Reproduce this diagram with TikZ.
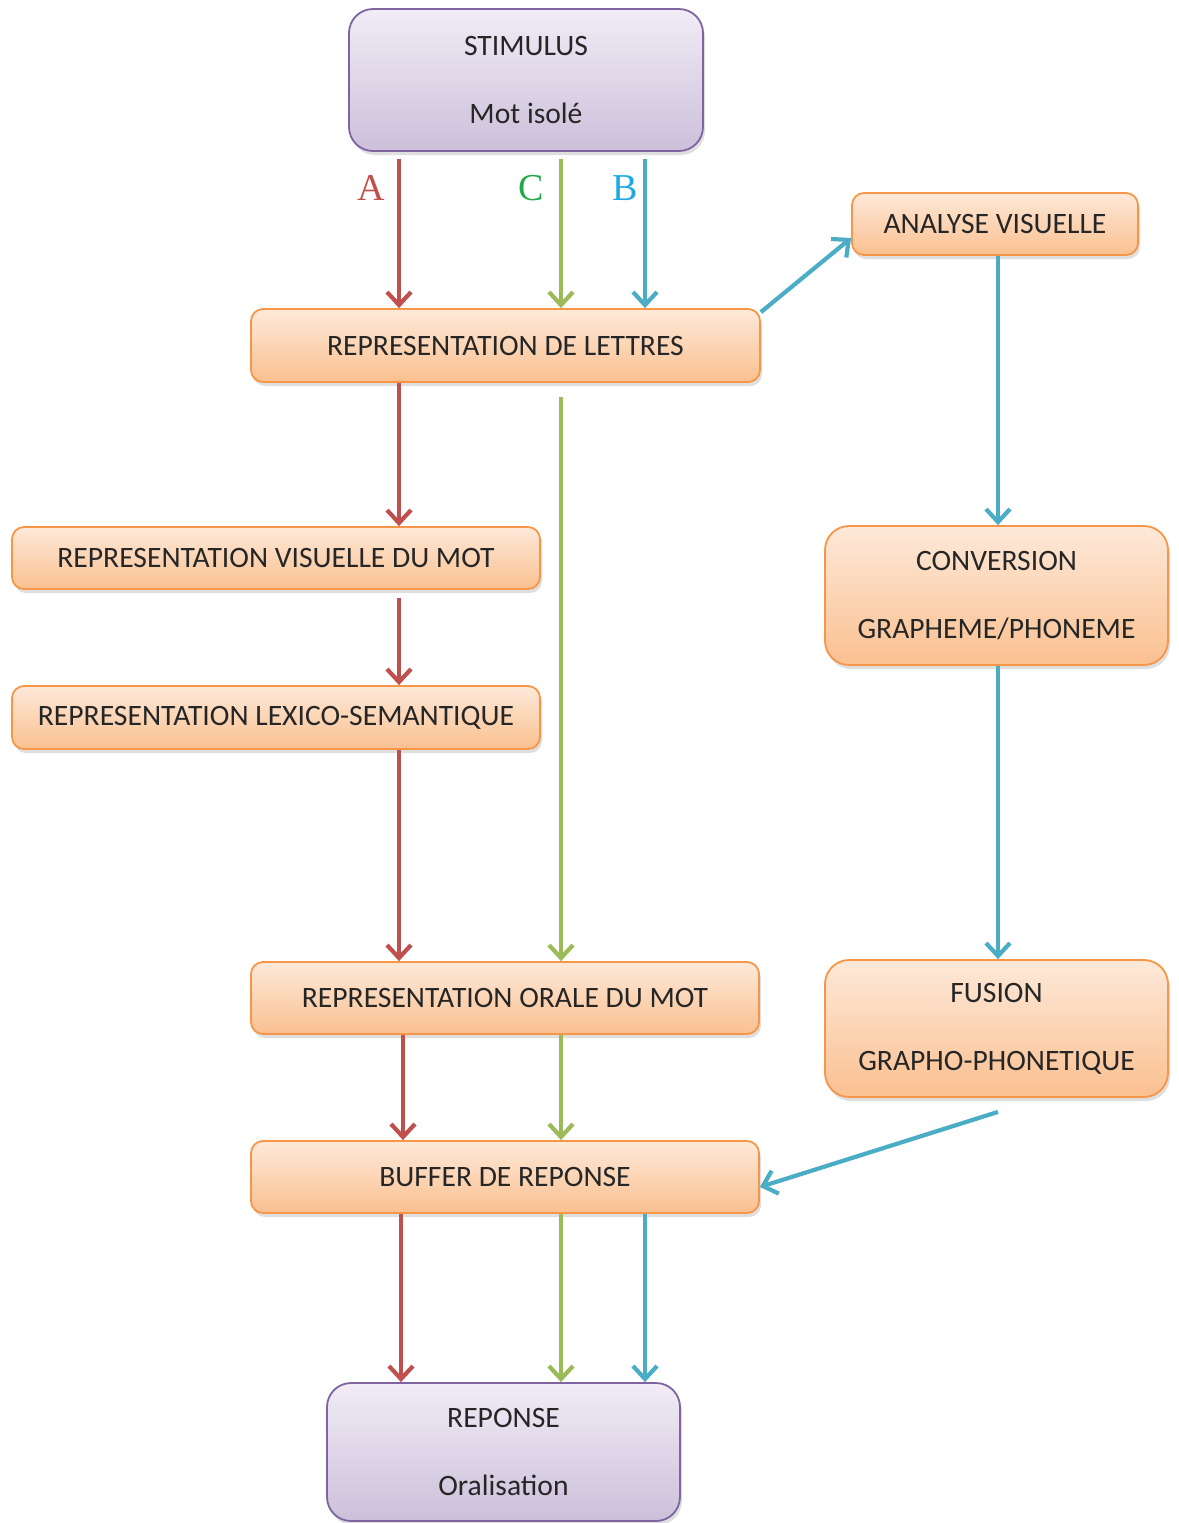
\documentclass[tikz,border=0pt]{standalone}
\usepackage{fontspec}
\setmainfont{Carlito}
\newfontfamily\serifabc{Liberation Serif}
\usepackage{tikz}
\usetikzlibrary{arrows.meta,shadows}

\definecolor{orline}{HTML}{F79646}
\definecolor{ortop}{HTML}{FDE9D9}
\definecolor{orbot}{HTML}{FAC090}
\definecolor{puline}{HTML}{8064A2}
\definecolor{putop}{HTML}{F1ECF6}
\definecolor{pubot}{HTML}{CCC0DA}
\definecolor{voieA}{HTML}{C0504D}
\definecolor{voieC}{HTML}{9BBB59}
\definecolor{voieB}{HTML}{4BACC6}
\definecolor{lettreA}{HTML}{C0504D}
\definecolor{lettreC}{HTML}{22AA4A}
\definecolor{lettreB}{HTML}{1FA9E1}

\begin{document}
\begin{tikzpicture}
		[x=0.5pt,y=-0.5pt,
		box/.style= {rounded corners=6pt,line width=0.9pt,draw=orline,top color=ortop,bottom color=orbot,
			drop shadow={shadow xshift=1pt,shadow yshift=-2pt,opacity=0.25},
			font=\fontsize{14.8}{17}\selectfont,text=black!85,align=center,inner sep=0pt},
		bigbox/.style= {box,rounded corners=12pt},
		pbox/.style= {bigbox,draw=puline,top color=putop,bottom color=pubot},
		voie/.style= {line width=2.1pt,-{Straight Barb[length=6.5pt,width=12pt,line width=2.1pt]}},
		va/.style= {voie,draw=voieA},
		vc/.style= {voie,draw=voieC},
		vb/.style= {voie,draw=voieB},
		lbl/.style= {font=\serifabc\fontsize{19}{19}\selectfont}]

		\useasboundingbox (0,0) rectangle (1179,1523);

		% colonnes des trois voies
		\coordinate (colA) at (399,0);
		\coordinate (colC) at (561,0);
		\coordinate (colB) at (645,0);
		\coordinate (colD) at (998,0);

		\node[pbox,minimum width=177pt,minimum height=71pt] (stim) at (526,80) {STIMULUS\\[17pt]Mot isolé};

		\node[box,minimum width=254.5pt,minimum height=36.5pt] (lettres) at (505.5,345.5) {REPRESENTATION DE LETTRES};

		\node[box,minimum width=143pt,minimum height=31pt] (analyse) at (995,224) {ANALYSE VISUELLE};

		\node[box,minimum width=264pt,minimum height=31pt] (visuelle) at (276,558) {REPRESENTATION VISUELLE DU MOT};

		\node[box,minimum width=264pt,minimum height=31.5pt] (lexico) at (276,717.5) {REPRESENTATION LEXICO-SEMANTIQUE};

		\node[bigbox,minimum width=171.5pt,minimum height=69.5pt] (conv) at (996.5,595.5) {CONVERSION\\[17pt]GRAPHEME/PHONEME};

		\node[box,minimum width=254pt,minimum height=36pt] (orale) at (505,998) {REPRESENTATION ORALE DU MOT};

		\node[bigbox,minimum width=171.5pt,minimum height=68.5pt] (fusion) at (996.5,1028.5) {FUSION\\[17pt]GRAPHO-PHONETIQUE};

		\node[box,minimum width=254pt,minimum height=36pt] (buffer) at (505,1177) {BUFFER DE REPONSE};

		\node[pbox,minimum width=176.5pt,minimum height=69pt] (rep) at (503.5,1452) {REPONSE\\[17pt]Oralisation};

		% voie A
		\draw[va,shorten <=3.5pt] (stim.south -| colA) -- (lettres.north -| colA);
		\draw[va] (lettres.south -| colA) -- (visuelle.north -| colA);
		\draw[va,shorten <=4pt] (visuelle.south -| colA) -- (lexico.north -| colA);
		\draw[va] (lexico.south -| colA) -- (orale.north -| colA);
		\draw[va] ([xshift=2pt]orale.south -| colA) -- ([xshift=2pt]buffer.north -| colA);
		\draw[va] ([xshift=1pt]buffer.south -| colA) -- ([xshift=1pt]rep.north -| colA);

		% voie C
		\draw[vc,shorten <=3.5pt] (stim.south -| colC) -- (lettres.north -| colC);
		\draw[vc,shorten <=7pt] (lettres.south -| colC) -- (orale.north -| colC);
		\draw[vc] (orale.south -| colC) -- (buffer.north -| colC);
		\draw[vc] (buffer.south -| colC) -- (rep.north -| colC);

		% voie B
		\draw[vb,shorten <=3.5pt] (stim.south -| colB) -- (lettres.north -| colB);
		\draw[vb] ([yshift=-2pt]lettres.north east) -- ([yshift=-7pt]analyse.west);
		\draw[vb] (analyse.south -| colD) -- (conv.north -| colD);
		\draw[vb] (conv.south -| colD) -- (fusion.north -| colD);
		\draw[vb] ([yshift=-7pt]fusion.south -| colD) -- ([yshift=-5pt]buffer.east);
		\draw[vb] (buffer.south -| colB) -- (rep.north -| colB);

		\node[lbl,text=lettreA] (labA) at (371,188) {A};
		\node[lbl,text=lettreC] (labC) at (531,188) {C};
		\node[lbl,text=lettreB] (labB) at (625,188) {B};

\end{tikzpicture}
\end{document}
